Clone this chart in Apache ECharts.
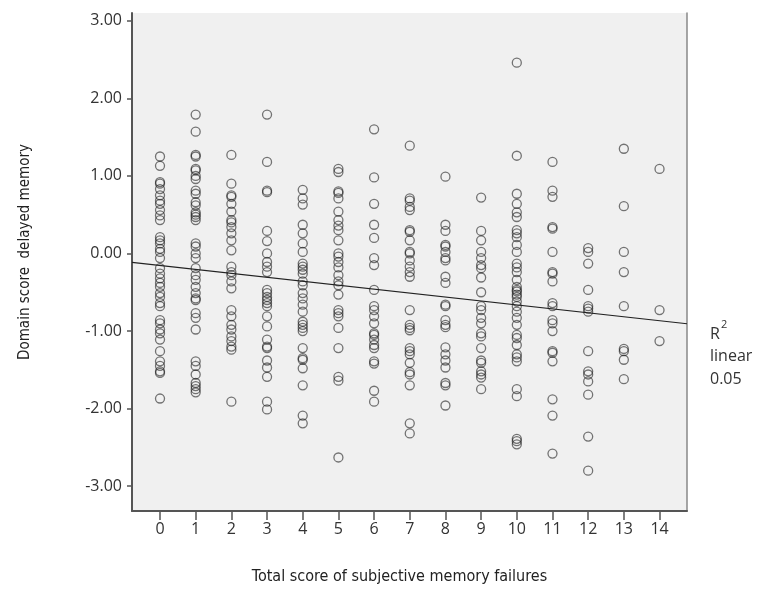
<!DOCTYPE html>
<html>
<head>
<meta charset="utf-8">
<script src="https://cdn.jsdelivr.net/npm/echarts@6/dist/echarts.min.js"></script>
<style>
html,body{margin:0;padding:0;background:#fff;}
#chart{width:762px;height:590px;}
</style>
</head>
<body>
<div id="chart"></div>
<script>
// x categories (total score of subjective memory failures)
const xTicks = [0,1,2,3,4,5,6,7,8,9,10,11,12,13,14];
const yTicks = [-3,-2,-1,0,1,2,3];

// domain score (delayed memory) per x value
const col0 = [1.25,1.13,0.92,0.90,0.83,0.75,0.68,0.64,0.56,0.49,0.43,0.21,0.17,0.13,0.06,0.02,-0.06,-0.19,-0.26,-0.32,-0.38,-0.43,-0.51,-0.56,-0.64,-0.68,-0.86,-0.90,-0.98,-1.03,-1.11,-1.26,-1.39,-1.45,-1.52,-1.54,-1.87];
const col1 = [1.79,1.57,1.27,1.25,1.09,1.07,1.00,0.96,0.81,0.77,0.66,0.62,0.53,0.50,0.47,0.43,0.13,0.09,0.00,-0.06,-0.19,-0.28,-0.34,-0.43,-0.51,-0.58,-0.60,-0.77,-0.83,-0.98,-1.39,-1.45,-1.56,-1.67,-1.71,-1.75,-1.79];
const col2 = [1.27,0.90,0.75,0.73,0.64,0.54,0.43,0.40,0.34,0.26,0.17,0.04,-0.17,-0.24,-0.28,-0.36,-0.45,-0.73,-0.81,-0.92,-0.98,-1.07,-1.13,-1.20,-1.24,-1.91];
const col3 = [1.79,1.18,0.81,0.79,0.29,0.16,0.00,-0.11,-0.17,-0.24,-0.47,-0.51,-0.56,-0.60,-0.64,-0.68,-0.81,-0.94,-1.11,-1.20,-1.22,-1.38,-1.47,-1.59,-1.91,-2.01];
const col4 = [0.82,0.71,0.63,0.37,0.26,0.13,0.02,-0.13,-0.17,-0.21,-0.26,-0.36,-0.41,-0.51,-0.58,-0.66,-0.75,-0.88,-0.92,-0.96,-1.00,-1.22,-1.35,-1.37,-1.48,-1.70,-2.09,-2.19];
const col5 = [1.09,1.05,0.80,0.78,0.71,0.54,0.43,0.36,0.30,0.17,0.00,-0.04,-0.11,-0.18,-0.28,-0.36,-0.41,-0.53,-0.73,-0.77,-0.81,-0.96,-1.22,-1.59,-1.64,-2.63];
const col6 = [1.60,0.98,0.64,0.37,0.20,-0.06,-0.15,-0.47,-0.68,-0.73,-0.81,-0.90,-1.03,-1.05,-1.11,-1.18,-1.22,-1.39,-1.42,-1.77,-1.91];
const col7 = [1.39,0.71,0.68,0.60,0.56,0.30,0.28,0.17,0.02,0.00,-0.09,-0.17,-0.24,-0.30,-0.73,-0.92,-0.96,-0.99,-1.22,-1.26,-1.30,-1.41,-1.53,-1.56,-1.70,-2.19,-2.32];
const col8 = [0.99,0.37,0.29,0.11,0.09,0.02,-0.06,-0.09,-0.30,-0.38,-0.66,-0.68,-0.86,-0.92,-0.95,-1.21,-1.30,-1.38,-1.47,-1.67,-1.70,-1.96];
const col9 = [0.72,0.29,0.17,0.02,-0.06,-0.15,-0.19,-0.31,-0.50,-0.68,-0.73,-0.83,-0.90,-1.03,-1.07,-1.22,-1.38,-1.41,-1.52,-1.56,-1.60,-1.75];
const col10 = [2.46,1.26,0.77,0.64,0.53,0.47,0.30,0.26,0.21,0.11,0.02,-0.13,-0.18,-0.24,-0.34,-0.43,-0.47,-0.49,-0.53,-0.56,-0.62,-0.68,-0.75,-0.83,-0.92,-1.05,-1.09,-1.18,-1.30,-1.34,-1.39,-1.75,-1.84,-2.39,-2.42,-2.46];
const col11 = [1.18,0.81,0.73,0.34,0.32,0.02,-0.24,-0.26,-0.36,-0.64,-0.68,-0.86,-0.90,-1.00,-1.26,-1.28,-1.39,-1.88,-2.09,-2.58];
const col12 = [0.07,0.02,-0.13,-0.47,-0.68,-0.71,-0.75,-1.26,-1.52,-1.56,-1.65,-1.82,-2.36,-2.80];
const col13 = [1.35,0.61,0.02,-0.24,-0.68,-1.23,-1.26,-1.37,-1.62];
const col14 = [1.09,-0.73,-1.13];

// fitted linear line endpoints, R² linear = 0.05
const fitX = [-0.785, 14.77];
const fitY = [-0.115, -0.906];

const columns = [col0,col1,col2,col3,col4,col5,col6,col7,col8,col9,col10,col11,col12,col13,col14];
const points = [];
columns.forEach((col, i) => col.forEach(v => points.push([xTicks[i], v])));
const fitData = fitX.map((x, i) => [x, fitY[i]]);

const tickFont = "'Open Sans', 'DejaVu Sans', sans-serif";
const titleFont = "'Liberation Sans Narrow', 'DejaVu Sans Condensed', sans-serif";

const chart = echarts.init(document.getElementById('chart'), null, {renderer: 'canvas'});
chart.setOption({
  animation: false,
  backgroundColor: '#ffffff',
  grid: {
    left: 132, top: 13, right: 75, bottom: 76,
    show: true, backgroundColor: '#f0f0f0', borderWidth: 0
  },
  xAxis: {
    type: 'value',
    min: -0.785, max: 14.77,
    splitLine: {show: false},
    axisLine: {show: true, onZero: false, lineStyle: {color: '#555', width: 2}},
    axisTick: {show: true, customValues: xTicks, length: 9, lineStyle: {color: '#555', width: 1.5}},
    axisLabel: {customValues: xTicks, fontFamily: tickFont, fontSize: 16, color: '#333', margin: 10},
    name: 'Total score of subjective memory failures',
    nameLocation: 'middle', nameGap: 58,
    nameTextStyle: {fontFamily: titleFont, fontSize: 16, color: '#222', padding: [0, 20, 0, 0]}
  },
  yAxis: [{
    type: 'value',
    min: -3.32, max: 3.10,
    splitLine: {show: false},
    axisLine: {show: true, onZero: false, lineStyle: {color: '#555', width: 2}},
    axisTick: {show: true, customValues: yTicks, length: 5, lineStyle: {color: '#555', width: 1.5}},
    axisLabel: {customValues: yTicks, formatter: v => v.toFixed(2), fontFamily: tickFont, fontSize: 16, color: '#333', margin: 10},
    name: 'Domain score  delayed memory',
    nameLocation: 'middle', nameGap: 99,
    nameTextStyle: {fontFamily: titleFont, fontSize: 15, color: '#222', padding: [0, 0, 0, 20]}
  }, {
    type: 'value', position: 'right',
    min: -3.32, max: 3.10,
    splitLine: {show: false},
    axisLine: {show: true, onZero: false, lineStyle: {color: '#888', width: 1.5}},
    axisTick: {show: false}, axisLabel: {show: false}
  }],
  series: [{
    type: 'scatter',
    data: points,
    symbol: 'circle',
    symbolSize: 9,
    itemStyle: {color: 'rgba(0,0,0,0)', borderColor: 'rgba(30,30,30,0.75)', borderWidth: 1.3},
    z: 3
  }, {
    type: 'line',
    data: fitData,
    showSymbol: false,
    lineStyle: {color: '#222', width: 1.2},
    z: 2
  }],
  graphic: [
    {type: 'text', x: 710, y: 334, style: {text: 'R', font: "16px 'Open Sans', sans-serif", fill: '#333', verticalAlign: 'middle'}},
    {type: 'text', x: 721, y: 325, style: {text: '2', font: "11px 'Open Sans', sans-serif", fill: '#333', verticalAlign: 'middle'}},
    {type: 'text', x: 710, y: 356, style: {text: 'linear', font: "16px 'Open Sans', sans-serif", fill: '#333', verticalAlign: 'middle'}},
    {type: 'text', x: 710, y: 379, style: {text: '0.05', font: "16px 'Open Sans', sans-serif", fill: '#333', verticalAlign: 'middle'}}
  ]
});
</script>
</body>
</html>
